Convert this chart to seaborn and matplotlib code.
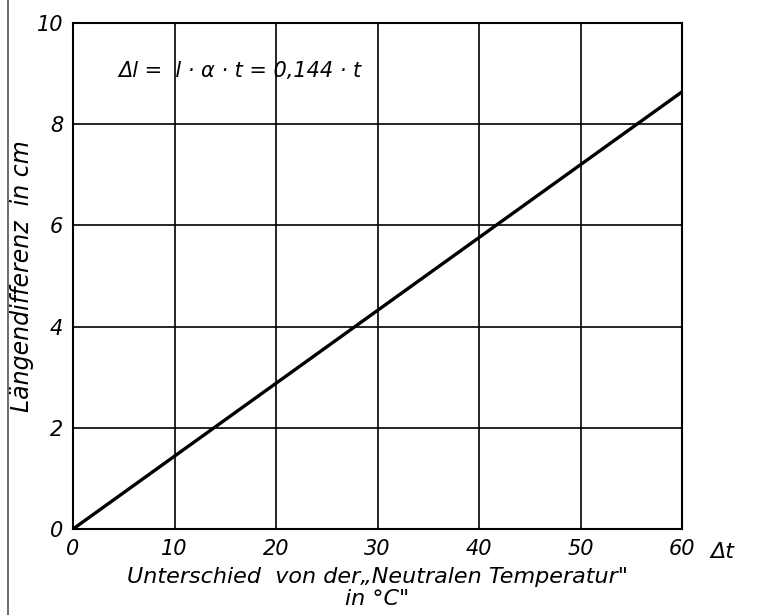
import numpy as np
import pandas as pd
import matplotlib
matplotlib.use("Agg")
import matplotlib.pyplot as plt
import seaborn as sns
from matplotlib.lines import Line2D

# data: length difference = 0.144 * t
t_werte = [0, 60]
dl_werte = [0.0, 8.64]
x_ticks = [0, 10, 20, 30, 40, 50, 60]
y_ticks = [0, 2, 4, 6, 8, 10]

df = pd.DataFrame({"t": t_werte, "dl": dl_werte})

sns.set_style("white")
plt.rcParams['font.family'] = ['DejaVu Sans']
plt.rcParams['font.style'] = 'italic'
plt.rcParams['text.color'] = 'black'
plt.rcParams['axes.labelcolor'] = 'black'
plt.rcParams['xtick.color'] = 'black'
plt.rcParams['ytick.color'] = 'black'

fig = plt.figure(figsize=(7.71, 6.15), dpi=100)
ax = fig.add_axes([0.0947, 0.1398, 0.7899, 0.8228])

sns.lineplot(data=df, x="t", y="dl", color="black", linewidth=2.4, ax=ax)

ax.set_xlim(0, 60)
ax.set_ylim(0, 10)
ax.set_xticks(x_ticks)
ax.set_yticks(y_ticks)
ax.set_xticklabels([str(v) for v in x_ticks], fontsize=15, style='italic')
ax.set_yticklabels([str(v) for v in y_ticks], fontsize=15, style='italic')
ax.tick_params(length=0, pad=7)
ax.grid(True, color="black", linewidth=1.2)
for s in ax.spines.values():
    s.set_visible(True)
    s.set_color("black")
    s.set_linewidth(1.5)

ax.set_xlabel('Unterschied  von der„Neutralen Temperatur"\nin °C"', fontsize=16,
              style='italic', linespacing=1.1, labelpad=6)
ax.set_ylabel("Längendifferenz  in cm", fontsize=17, style='italic', labelpad=2)
ax.text(62.8, -0.25, "Δt", fontsize=16, style='italic', va='top', ha='left')
ax.text(4.5, 9.05, "Δl =  l · α · t = 0,144 · t", fontsize=15, style='italic',
        va='center', ha='left')

# page border of the scan
fig.add_artist(Line2D([8 / 771, 8 / 771], [0, 1], color="#555555", linewidth=1.2))

fig.savefig("out.png", dpi=100)
